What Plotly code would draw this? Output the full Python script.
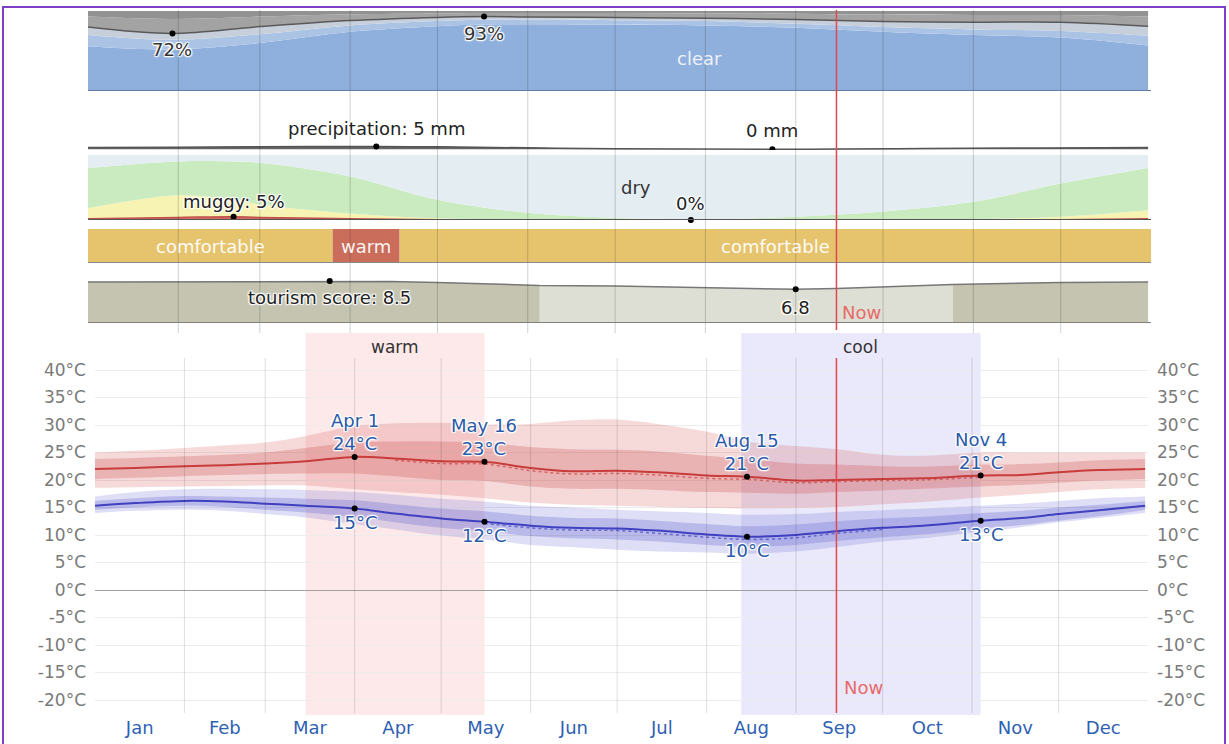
import numpy as np
import pandas as pd
import plotly.graph_objects as go

W, H = 1229, 744
FONT = "DejaVu Sans"
HALO = "1px 1px 1px #fff, -1px -1px 1px #fff, 1px -1px 1px #fff, -1px 1px 1px #fff, 0 0 3px #fff"

# ---------------- data ----------------
year_start = "2023-01-01"
year_end = "2024-01-01"
now_date = "2023-09-15"

# cloud cover categories (% of time)
cloud_dates = ["2023-01-01", "2023-01-30", "2023-03-01", "2023-04-01", "2023-05-01", "2023-05-17", "2023-06-01",
               "2023-07-01", "2023-08-01", "2023-09-01", "2023-10-01", "2023-11-01", "2023-12-01", "2023-12-31"]
cloud_clear = [56, 52, 60, 74, 81, 83, 83.5, 83, 82, 79, 74, 70, 67, 57]
cloud_mostly_clear = [14, 12, 11, 8, 6.5, 6, 5.5, 5.5, 5.5, 5, 6, 7, 8, 12]
cloud_partly = [10, 8, 9.5, 6, 4.5, 4, 3.5, 3.5, 3.5, 5.5, 7, 9, 11, 12]
cloud_mostly_cloudy = [13, 18, 12.5, 8, 5, 4.5, 5, 5.5, 6, 7, 8.5, 9, 9, 12]
cloud_overcast = [7, 10, 7, 4, 3, 2.5, 2.5, 2.5, 3, 3.5, 4.5, 5, 5, 7]
cloud_label_dates = ["2023-01-30", "2023-05-17"]

# precipitation (mm)
precip_dates = ["2023-01-01", "2023-02-01", "2023-03-01", "2023-04-10", "2023-05-01", "2023-06-01", "2023-07-01",
                "2023-08-24", "2023-09-15", "2023-10-15", "2023-11-15", "2023-12-15", "2023-12-31"]
precip_mm = [3.0, 3.8, 4.4, 5.0, 4.3, 2.5, 1.0, 0.0, 0.3, 1.2, 2.2, 2.8, 3.0]

# humidity comfort levels (% of time)
humid_dates = ["2023-01-01", "2023-02-01", "2023-02-20", "2023-03-01", "2023-04-01", "2023-05-01", "2023-06-01",
               "2023-07-01", "2023-07-27", "2023-08-01", "2023-09-01", "2023-10-01", "2023-11-01", "2023-12-01",
               "2023-12-31"]
hum_muggy = [2, 4, 5, 4, 2, 0.5, 0.1, 0, 0, 0, 0, 0, 0.2, 0.5, 2]
hum_humid = [16, 34, 26, 20, 8, 2, 0.4, 0, 0, 0, 0, 0.5, 1.3, 4.5, 13]
hum_comfortable = [62, 52, 59, 64, 57, 28.5, 10.5, 3, 1, 1, 5, 12.5, 26.5, 51, 65]
hum_dry = [20, 10, 10, 12, 33, 69, 89, 97, 99, 99, 95, 87, 72, 44, 20]
humid_label_dates = ["2023-02-20", "2023-07-27"]

# temperature comfort bands
comfort_labels = ["comfortable", "warm", "comfortable"]
comfort_starts = ["2023-01-01", "2023-03-26", "2023-04-18"]
comfort_ends = ["2023-03-26", "2023-04-18", "2024-01-01"]

# tourism score
tour_dates = ["2023-01-01", "2023-02-01", "2023-03-01", "2023-03-25", "2023-04-15", "2023-05-01", "2023-06-05",
              "2023-07-01", "2023-08-01", "2023-08-15", "2023-09-01", "2023-09-15", "2023-10-01", "2023-10-25",
              "2023-12-01", "2023-12-31"]
tour_score = [8.3, 8.35, 8.4, 8.5, 8.4, 8.2, 7.6, 7.5, 7.2, 7.0, 6.8, 7.0, 7.3, 7.8, 8.2, 8.3]
tour_low_period = ["2023-06-05", "2023-10-25"]

# temperature (°C)
temp_dates = ["2023-01-01", "2023-01-15", "2023-02-01", "2023-02-15", "2023-03-01", "2023-03-15", "2023-04-01",
              "2023-04-15", "2023-05-01", "2023-05-16", "2023-06-01", "2023-06-15", "2023-07-01", "2023-07-15",
              "2023-08-01", "2023-08-15", "2023-09-01", "2023-09-15", "2023-10-01", "2023-10-15", "2023-11-04",
              "2023-11-18", "2023-12-01", "2023-12-15", "2023-12-31"]
high_mean = [22.0, 22.2, 22.5, 22.7, 23.0, 23.4, 24.2, 23.9, 23.4, 23.3, 22.2, 21.6, 21.7, 21.4, 20.8, 20.6, 19.9,
             20.0, 20.2, 20.3, 20.8, 20.9, 21.4, 21.8, 22.0]
high_p90 = [25.0, 25.3, 25.8, 26.3, 26.8, 28.0, 29.8, 30.3, 30.4, 30.1, 30.2, 30.8, 31.0, 30.2, 28.8, 27.0, 26.2,
            25.6, 24.6, 24.4, 25.0, 25.0, 25.0, 25.0, 25.0]
high_p75 = [23.8, 24.0, 24.3, 24.6, 25.0, 25.8, 26.8, 27.0, 27.0, 26.8, 26.0, 25.6, 25.5, 25.2, 24.4, 23.8, 23.0,
            22.8, 22.5, 22.4, 22.8, 22.9, 23.2, 23.6, 23.8]
high_p25 = [20.2, 20.4, 20.7, 20.9, 21.1, 21.2, 21.2, 20.7, 20.0, 19.8, 18.8, 18.4, 18.4, 18.2, 17.8, 17.7, 17.5,
            17.8, 18.1, 18.4, 18.8, 19.1, 19.5, 19.9, 20.2]
high_p10 = [18.6, 18.7, 18.8, 18.9, 19.0, 19.0, 18.3, 17.8, 17.3, 16.7, 15.9, 15.5, 15.3, 15.1, 14.9, 14.8, 14.9,
            15.1, 15.6, 16.0, 16.8, 17.3, 17.8, 18.3, 18.6]
high_perceived = [None] * 7 + [23.6, 23.0, 22.9, 21.7, 21.1, 21.2, 20.9, 20.3, 20.1, 19.5, 19.7, 19.9, 20.0,
                               20.5] + [None] * 4
low_mean = [15.3, 15.8, 16.2, 16.1, 15.7, 15.3, 14.8, 13.9, 13.0, 12.4, 11.7, 11.3, 11.2, 10.8, 10.1, 9.7, 10.0,
            10.7, 11.3, 11.7, 12.6, 13.1, 13.8, 14.5, 15.3]
low_p90 = [17.0, 17.8, 18.3, 18.4, 18.3, 18.2, 17.8, 17.3, 16.6, 16.1, 15.3, 15.0, 14.6, 14.3, 14.0, 13.7, 13.8,
           14.2, 14.5, 14.8, 15.3, 15.7, 16.2, 16.7, 17.0]
low_p75 = [16.2, 16.7, 17.1, 17.0, 16.8, 16.6, 16.3, 15.6, 14.8, 14.3, 13.5, 13.1, 13.0, 12.6, 12.0, 11.6, 11.9,
           12.5, 13.0, 13.3, 14.0, 14.4, 15.0, 15.5, 16.2]
low_p25 = [14.6, 15.0, 15.3, 15.1, 14.6, 14.1, 13.3, 12.3, 11.3, 10.7, 9.8, 9.4, 9.2, 8.8, 8.2, 7.9, 8.2, 8.9,
           9.6, 10.1, 11.2, 11.8, 12.6, 13.4, 14.6]
low_p10 = [14.0, 14.4, 14.6, 14.4, 13.8, 13.2, 12.0, 11.0, 9.9, 9.2, 8.2, 7.8, 7.3, 7.0, 6.8, 6.6, 7.0, 7.8,
           8.8, 9.4, 10.6, 11.4, 12.3, 13.1, 14.0]
low_perceived = [None] * 9 + [12.1, 11.3, 10.9, 10.8, 10.3, 9.6, 9.2, 9.5, 10.3, 11.0] + [None] * 6
temp_label_dates = ["2023-04-01", "2023-05-16", "2023-08-15", "2023-11-04"]

seasons = [("warm", "2023-03-15", "2023-05-16", "#fde9e9"),
           ("cool", "2023-08-13", "2023-11-04", "#e9e9fb")]

temp_ticks = [40, 35, 30, 25, 20, 15, 10, 5, 0, -5, -10, -15, -20]


# ---------------- helpers ----------------
def py(px):
    return 1 - px / H


def dom(top, bot):
    return [py(bot), py(top)]


def halo_font(size=18, color="#222"):
    return dict(family=FONT, size=size, color=color, shadow=HALO)


fig = go.Figure()

# ---------- cloud panel (x, y) ----------
cloud_layers = [(cloud_clear, "#8fb0dc"), (cloud_mostly_clear, "#abc3e5"), (cloud_partly, "#c7cfdb"),
                (cloud_mostly_cloudy, "#a3a3a3"), (cloud_overcast, "#929292")]
for vals, col in cloud_layers:
    fig.add_trace(go.Scatter(x=cloud_dates, y=vals, stackgroup="cloud", mode="lines",
                             line=dict(width=0, shape="spline"), fillcolor=col,
                             xaxis="x", yaxis="y", hoverinfo="skip"))
cloud_fair = np.array(cloud_clear) + np.array(cloud_mostly_clear) + np.array(cloud_partly)
fig.add_trace(go.Scatter(x=cloud_dates, y=cloud_fair, mode="lines", line=dict(color="#5a5a5a", width=1.5, shape="spline"),
                         xaxis="x", yaxis="y", hoverinfo="skip"))
cidx = [cloud_dates.index(d) for d in cloud_label_dates]
fig.add_trace(go.Scatter(x=cloud_label_dates, y=cloud_fair[cidx], mode="markers",
                         marker=dict(color="black", size=6), xaxis="x", yaxis="y", hoverinfo="skip"))

# ---------- precipitation panel (x, y2) ----------
fig.add_trace(go.Scatter(x=precip_dates, y=precip_mm, mode="lines", fill="tozeroy", fillcolor="#666",
                         line=dict(color="#555", width=1.5, shape="spline"), xaxis="x", yaxis="y2", hoverinfo="skip"))
pmax = int(np.argmax(precip_mm))
pmin = int(np.argmin(precip_mm))
fig.add_trace(go.Scatter(x=[precip_dates[pmax], precip_dates[pmin]], y=[precip_mm[pmax], precip_mm[pmin]],
                         mode="markers", marker=dict(color="black", size=6), xaxis="x", yaxis="y2", hoverinfo="skip"))

# ---------- humidity panel (x, y3) ----------
hum_layers = [(hum_muggy, "#cf6a5c"), (hum_humid, "#f7f3b2"), (hum_comfortable, "#caebbf"), (hum_dry, "#e4edf2")]
for vals, col in hum_layers:
    fig.add_trace(go.Scatter(x=humid_dates, y=vals, stackgroup="hum", mode="lines",
                             line=dict(width=0, shape="spline"), fillcolor=col,
                             xaxis="x", yaxis="y3", hoverinfo="skip"))
fig.add_trace(go.Scatter(x=humid_dates, y=hum_muggy, mode="lines", line=dict(color="#c0504d", width=1.5, shape="spline"),
                         xaxis="x", yaxis="y3", hoverinfo="skip"))
hidx = [humid_dates.index(d) for d in humid_label_dates]
fig.add_trace(go.Scatter(x=humid_label_dates, y=[hum_muggy[i] for i in hidx], mode="markers",
                         marker=dict(color="black", size=6), xaxis="x", yaxis="y3", hoverinfo="skip",
                         cliponaxis=False))

# ---------- comfort bar (x, y4) ----------
comfort_colors = {"comfortable": "#e6c46e", "warm": "#cb6d5b"}
for lab, s, e in zip(comfort_labels, comfort_starts, comfort_ends):
    fig.add_trace(go.Scatter(x=[s, e, e, s], y=[0, 0, 1, 1], fill="toself", mode="none",
                             fillcolor=comfort_colors[lab], xaxis="x", yaxis="y4", hoverinfo="skip"))

# ---------- tourism (x, y5) ----------
fig.add_trace(go.Scatter(x=tour_dates, y=tour_score, mode="none", fill="tozeroy", fillcolor="#c4c4b1",
                         xaxis="x", yaxis="y5", hoverinfo="skip"))
tdates = pd.to_datetime(tour_dates)
mask = (tdates >= pd.Timestamp(tour_low_period[0])) & (tdates <= pd.Timestamp(tour_low_period[1]))
fig.add_trace(go.Scatter(x=np.array(tour_dates)[mask], y=np.array(tour_score)[mask], mode="none", fill="tozeroy",
                         fillcolor="#dedfd4", xaxis="x", yaxis="y5", hoverinfo="skip"))
fig.add_trace(go.Scatter(x=tour_dates, y=tour_score, mode="lines", line=dict(color="#777", width=1.5),
                         xaxis="x", yaxis="y5", hoverinfo="skip"))
tmax = int(np.argmax(tour_score))
tmin = int(np.argmin(tour_score))
fig.add_trace(go.Scatter(x=[tour_dates[tmax], tour_dates[tmin]], y=[tour_score[tmax], tour_score[tmin]],
                         mode="markers", marker=dict(color="black", size=6), xaxis="x", yaxis="y5",
                         hoverinfo="skip", cliponaxis=False))

# ---------- temperature (x2, y6) ----------
def band(upper, lower, color):
    fig.add_trace(go.Scatter(x=temp_dates, y=upper, mode="lines", line=dict(width=0, shape="spline"),
                             xaxis="x2", yaxis="y6", hoverinfo="skip"))
    fig.add_trace(go.Scatter(x=temp_dates, y=lower, mode="lines", line=dict(width=0, shape="spline"),
                             fill="tonexty", fillcolor=color, xaxis="x2", yaxis="y6", hoverinfo="skip"))


band(high_p90, high_p10, "rgba(212,72,72,0.20)")
band(high_p75, high_p25, "rgba(200,64,64,0.25)")
band(low_p90, low_p10, "rgba(92,92,212,0.20)")
band(low_p75, low_p25, "rgba(80,80,200,0.25)")
fig.add_trace(go.Scatter(x=temp_dates, y=high_perceived, mode="lines",
                         line=dict(color="rgba(205,70,70,0.7)", width=1.5, dash="dot", shape="spline"),
                         xaxis="x2", yaxis="y6", hoverinfo="skip"))
fig.add_trace(go.Scatter(x=temp_dates, y=low_perceived, mode="lines",
                         line=dict(color="rgba(70,70,200,0.7)", width=1.5, dash="dot", shape="spline"),
                         xaxis="x2", yaxis="y6", hoverinfo="skip"))
fig.add_trace(go.Scatter(x=temp_dates, y=high_mean, mode="lines", line=dict(color="#c83c3c", width=2, shape="spline"),
                         xaxis="x2", yaxis="y6", hoverinfo="skip"))
fig.add_trace(go.Scatter(x=temp_dates, y=low_mean, mode="lines", line=dict(color="#4040c0", width=2, shape="spline"),
                         xaxis="x2", yaxis="y6", hoverinfo="skip"))
tidx = [temp_dates.index(d) for d in temp_label_dates]
fig.add_trace(go.Scatter(x=temp_label_dates * 2, y=[high_mean[i] for i in tidx] + [low_mean[i] for i in tidx],
                         mode="markers", marker=dict(color="black", size=6), xaxis="x2", yaxis="y6",
                         hoverinfo="skip"))

# ---------------- annotations ----------------
ann = []
for d, i in zip(cloud_label_dates, cidx):
    ann.append(dict(x=d, y=cloud_fair[i], xref="x", yref="y", text=f"{round(cloud_fair[i])}%", showarrow=False,
                    yanchor="top", yshift=-4, font=halo_font(18, "#333")))
ann.append(dict(x="2023-07-30", y=41, xref="x", yref="y", text="clear", showarrow=False,
                font=dict(family=FONT, size=18, color="rgba(255,255,255,0.85)")))
ann.append(dict(x=precip_dates[pmax], y=precip_mm[pmax], xref="x", yref="y2",
                text=f"precipitation: {precip_mm[pmax]:.0f} mm", showarrow=False, yanchor="bottom", yshift=5,
                font=halo_font(18, "#222")))
ann.append(dict(x=precip_dates[pmin], y=precip_mm[pmin], xref="x", yref="y2",
                text=f"{precip_mm[pmin]:.0f} mm", showarrow=False, yanchor="bottom", yshift=6,
                font=halo_font(18, "#222")))
ann.append(dict(x=humid_label_dates[0], y=hum_muggy[hidx[0]], xref="x", yref="y3",
                text=f"muggy: {hum_muggy[hidx[0]]:.0f}%", showarrow=False, yanchor="bottom", yshift=3,
                font=halo_font(18, "#222")))
ann.append(dict(x=humid_label_dates[1], y=hum_muggy[hidx[1]], xref="x", yref="y3",
                text=f"{hum_muggy[hidx[1]]:.0f}%", showarrow=False, yanchor="bottom", yshift=4,
                font=halo_font(18, "#222")))
ann.append(dict(x="2023-07-08", y=50, xref="x", yref="y3", text="dry", showarrow=False,
                font=dict(family=FONT, size=18, color="#333")))
for lab, s, e in zip(comfort_labels, comfort_starts, comfort_ends):
    mid = pd.Timestamp(s) + (pd.Timestamp(e) - pd.Timestamp(s)) / 2
    ann.append(dict(x=mid, y=0.5, xref="x", yref="y4", text=lab, showarrow=False,
                    font=dict(family=FONT, size=18, color="rgba(255,255,255,0.95)")))
ann.append(dict(x=tour_dates[tmax], y=tour_score[tmax], xref="x", yref="y5",
                text=f"tourism score: {tour_score[tmax]:.1f}", showarrow=False, yanchor="top", yshift=-4,
                font=halo_font(18, "#222")))
ann.append(dict(x=tour_dates[tmin], y=tour_score[tmin], xref="x", yref="y5",
                text=f"{tour_score[tmin]:.1f}", showarrow=False, yanchor="top", yshift=-6,
                font=halo_font(18, "#222")))
ann.append(dict(x=now_date, y=py(312), xref="x", yref="paper", text="Now", showarrow=False,
                xanchor="left", xshift=4, font=dict(family=FONT, size=18, color="#e86a6a")))
ann.append(dict(x=now_date, y=py(700), xref="x2", yref="paper", text="Now", showarrow=False,
                xanchor="left", xshift=6, font=dict(family=FONT, size=18, color="#e86a6a")))
for name, s, e, col in seasons:
    mid = pd.Timestamp(s) + (pd.Timestamp(e) - pd.Timestamp(s)) / 2
    ann.append(dict(x=mid, y=py(347), xref="x2", yref="paper", text=name, showarrow=False,
                    font=dict(family=FONT, size=17, color="#333")))
for d, i in zip(temp_label_dates, tidx):
    ts = pd.Timestamp(d)
    ann.append(dict(x=d, y=high_mean[i], xref="x2", yref="y6", text=f"{ts:%b} {ts.day}<br>{round(high_mean[i])}°C",
                    showarrow=False, yanchor="bottom", yshift=1, font=halo_font(18, "#2b5aa8")))
    ann.append(dict(x=d, y=low_mean[i], xref="x2", yref="y6", text=f"{round(low_mean[i])}°C",
                    showarrow=False, yanchor="top", yshift=-1, font=halo_font(18, "#2b5aa8")))

# ---------------- shapes ----------------
shapes = []
month_starts = pd.date_range("2023-02-01", "2023-12-01", freq="MS")
for m in month_starts:
    shapes.append(dict(type="line", xref="x", yref="paper", x0=m, x1=m, y0=py(333), y1=py(10),
                       line=dict(color="rgba(40,40,40,0.22)", width=1), layer="above"))
    shapes.append(dict(type="line", xref="x2", yref="paper", x0=m, x1=m, y0=py(713), y1=py(358),
                       line=dict(color="rgba(0,0,0,0.13)", width=1), layer="above"))
for name, s, e, col in seasons:
    shapes.append(dict(type="rect", xref="x2", yref="paper", x0=s, x1=e, y0=py(715), y1=py(333),
                       fillcolor=col, line=dict(width=0), layer="below"))
# panel baselines
for yr, col in [("y", "#5f7ba3"), ("y3", "#555"), ("y4", "#8a8a8a"), ("y5", "#808080")]:
    shapes.append(dict(type="line", xref="x domain", yref=yr, x0=0, x1=1, y0=0, y1=0,
                       line=dict(color=col, width=2), layer="above"))
# now lines
shapes.append(dict(type="line", xref="x", yref="paper", x0=now_date, x1=now_date, y0=py(330), y1=py(10),
                   line=dict(color="#e2474f", width=1.5), layer="above"))
shapes.append(dict(type="line", xref="x2", yref="paper", x0=now_date, x1=now_date, y0=py(713), y1=py(358),
                   line=dict(color="#e2474f", width=1.5), layer="above"))
# frame
shapes.append(dict(type="rect", xref="paper", yref="paper", x0=3 / W, x1=1225 / W, y0=-0.05, y1=py(7),
                   line=dict(color="#7c3fc6", width=2), layer="above"))

# ---------------- layout ----------------
hidden_y = dict(showgrid=False, zeroline=False, showticklabels=False, ticks="", showline=False, fixedrange=True)
tick_font = dict(family=FONT, size=17, color="#7a7a7a")
fig.update_layout(
    width=W, height=H, margin=dict(l=0, r=0, t=0, b=0),
    paper_bgcolor="white", plot_bgcolor="white", showlegend=False, hovermode=False,
    font=dict(family=FONT),
    xaxis=dict(domain=[88 / W, 1151 / W], type="date", range=[year_start, year_end], visible=False, anchor="y",
               fixedrange=True),
    xaxis2=dict(domain=[95 / W, 1148 / W], type="date", range=[year_start, year_end], anchor="y6",
                dtick="M1", tick0=year_start, tickformat="%b", ticklabelmode="period", showgrid=False,
                zeroline=False, ticks="", showline=False, fixedrange=True,
                tickfont=dict(family=FONT, size=18, color="#2f5fb3")),
    yaxis=dict(domain=dom(11, 91), range=[0, 100], anchor="x", **hidden_y),
    yaxis2=dict(domain=dom(95, 150), range=[-1.5, 100], anchor="x", **hidden_y),
    yaxis3=dict(domain=dom(155, 220), range=[0, 100], anchor="x", **hidden_y),
    yaxis4=dict(domain=dom(229, 263), range=[0, 1], anchor="x", **hidden_y),
    yaxis5=dict(domain=dom(277, 323), range=[0, 9.3], anchor="x", **hidden_y),
    yaxis6=dict(domain=dom(333, 715), range=[(590 - 715) / 5.5, (590 - 333) / 5.5], anchor="x2",
                tickmode="array", tickvals=temp_ticks, ticktext=[f"{t}°C" for t in temp_ticks],
                showgrid=True, gridcolor="#ececec", gridwidth=1, zeroline=True, zerolinecolor="#a0a0a0",
                zerolinewidth=1, ticks="", ticklabelstandoff=8, tickfont=tick_font, fixedrange=True),
    yaxis7=dict(domain=dom(333, 715), range=[(590 - 715) / 5.5, (590 - 333) / 5.5], anchor="x2",
                overlaying="y6", side="right", tickmode="array", tickvals=temp_ticks,
                ticktext=[f"{t}°C" for t in temp_ticks], showgrid=False, zeroline=False, ticks="",
                ticklabelstandoff=8, tickfont=tick_font, fixedrange=True),
    annotations=ann, shapes=shapes,
)
# invisible point so the right-hand temperature axis is drawn
fig.add_trace(go.Scatter(x=[temp_dates[0]], y=[high_mean[0]], mode="markers", marker=dict(opacity=0),
                         xaxis="x2", yaxis="y7", hoverinfo="skip"))

fig.write_html("out.html", config={"displayModeBar": False},
               post_script="document.body.style.margin='0';document.body.style.padding='0';")
